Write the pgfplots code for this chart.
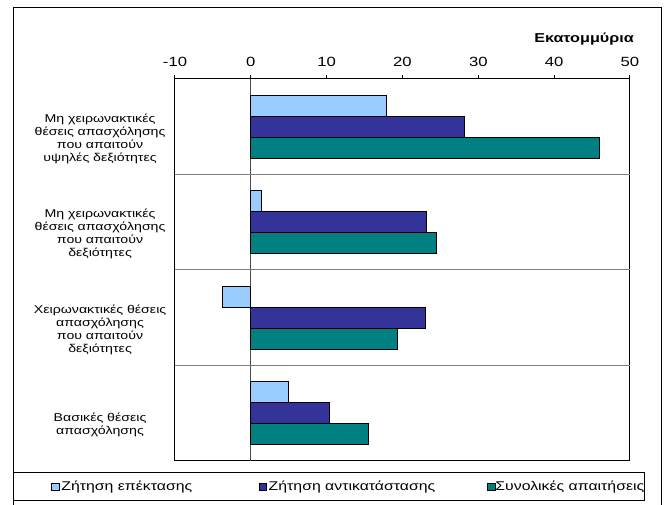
\documentclass[border=0pt]{standalone}
\usepackage{fontspec}
\setmainfont{Liberation Sans}[FakeStretch=1.25]
\usepackage{pgfplots}
\pgfplotsset{compat=1.18}
\definecolor{expC}{HTML}{99CCFF}
\definecolor{repC}{HTML}{333399}
\definecolor{totC}{HTML}{008080}
\pgfplotsset{sqleg/.style={legend image code/.code={\draw[##1,draw=black,line width=0.5pt] (0pt,-2.75pt) rectangle (5.5pt,2.75pt);}}}
\begin{document}
\begin{tikzpicture}[x=1pt,y=1pt]
\useasboundingbox (0,0) rectangle (504,378.75);
% outer frame and legend box
\draw[line width=0.75pt] (9.75,-5) -- (9.75,372.75) -- (495.75,372.75) -- (495.75,-5);
\draw[line width=0.75pt] (9.75,3) rectangle (483,24);
\begin{axis}[
  at={(131.25pt,33pt)}, anchor=south west,
  scale only axis, width=341.25pt, height=286.5pt,
  xbar=0pt, bar width=0.22,
  y dir=reverse,
  xmin=-10, xmax=50, ymin=-0.5, ymax=3.5,
  xtick={-10,0,...,50},
  tick align=outside,
  major tick length=3pt,
  xticklabel pos=right,
  xtick pos=right,
  xtick style={black, line width=0.75pt},
  axis line style={line width=0.75pt},
  /pgf/number format/assume math mode=true,
  xticklabel style={font=\fontsize{10}{12}\selectfont, yshift=3pt},
  ytick={0,1,2,3},
  ytick style={draw=none},
  yticklabels={
    {Μη χειρωνακτικές\hspace*{14pt}\\θέσεις απασχόλησης\\που απαιτούν\\υψηλές δεξιότητες},
    {Μη χειρωνακτικές\hspace*{14pt}\\θέσεις απασχόλησης\\που απαιτούν\\δεξιότητες},
    {Χειρωνακτικές θέσεις\\απασχόλησης\\που απαιτούν\\δεξιότητες},
    {Βασικές θέσεις\\απασχόλησης}},
  yticklabel style={anchor=east, align=center, text width=106pt, inner sep=0pt,
    xshift=0pt, yshift=-9pt, font=\fontsize{8.5}{9.75}\selectfont},
  extra y ticks={0.5,1.5,2.5},
  extra y tick labels={},
  extra y tick style={grid=major, major grid style={gray, line width=0.75pt}, tick style={draw=none}},
  extra x ticks={0},
  extra x tick labels={},
  extra x tick style={grid=major, major grid style={gray!60!black, line width=0.75pt}, tick style={draw=none}},
  legend style={at={(-0.281,-0.068)}, anchor=west, draw=none, fill=none,
    legend columns=3, font=\fontsize{9.5}{11}\selectfont,
    nodes={inner sep=0pt},
    /tikz/every odd column/.append style={column sep=1.5pt}},
]
\addplot[fill=expC, draw=black, line width=0.5pt, sqleg] coordinates {(17.9,0) (1.4,1) (-3.7,2) (5.0,3)};
\addlegendentry{\makebox[148pt][l]{Ζήτηση επέκτασης}}
\addplot[fill=repC, draw=black, line width=0.5pt, sqleg] coordinates {(28.2,0) (23.1,1) (23.0,2) (10.4,3)};
\addlegendentry{\makebox[164pt][l]{Ζήτηση αντικατάστασης}}
\addplot[fill=totC, draw=black, line width=0.5pt, sqleg] coordinates {(45.9,0) (24.5,1) (19.3,2) (15.5,3)};
\addlegendentry{\hspace*{-1.5pt}Συνολικές απαιτήσεις}
\end{axis}
\node[anchor=east, inner sep=0pt, font=\bfseries\fontsize{9.7}{11}\selectfont] at (475.5,349.5) {Εκατομμύρια};
\end{tikzpicture}
\end{document}
